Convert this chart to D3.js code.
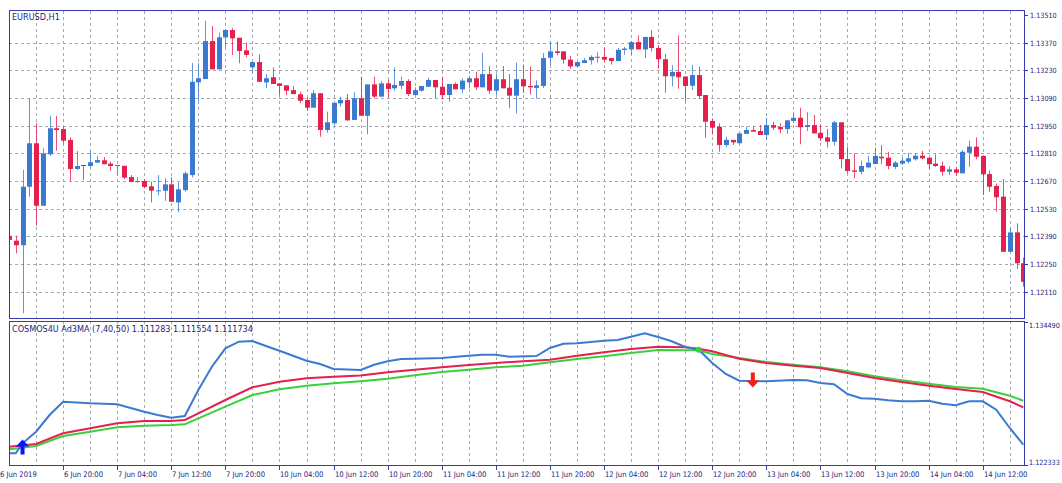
<!DOCTYPE html>
<html>
<head>
<meta charset="utf-8">
<script src="https://cdn.jsdelivr.net/npm/d3@7"></script>
<style>
html, body { margin: 0; padding: 0; background: #fff; }
svg { display: block; }
text { font-family: "Liberation Sans Narrow", "DejaVu Sans Condensed", "Arial Narrow", sans-serif; font-size: 9px; fill: #1c1c80; }
.paxis text { font-size: 7.2px; }
.taxis text { font-size: 7.6px; }
</style>
</head>
<body>
<script>
// EURUSD H1, one value per bar (6 Jun 12:00 .. 14 Jun 18:00)
const open = [1.12393,1.12368,1.12345,1.12641,1.12861,1.12545,1.12805,1.12937,1.12933,1.12878,
1.12731,1.12751,1.12746,1.12763,1.12775,1.12758,1.12747,1.12747,1.12690,1.12667,
1.12670,1.12643,1.12621,1.12621,1.12653,1.12562,1.12624,1.12700,1.13169,1.13186,
1.13378,1.13235,1.13397,1.13434,1.13395,1.13331,1.13245,1.13272,1.13169,1.13195,
1.13164,1.13154,1.13130,1.13109,1.13080,1.13041,1.13114,1.12928,1.12962,1.13063,
1.13080,1.12979,1.13089,1.13000,1.13159,1.13097,1.13164,1.13139,1.13152,1.13176,
1.13105,1.13127,1.13147,1.13181,1.13147,1.13105,1.13161,1.13134,1.13169,1.13190,
1.13144,1.13211,1.13127,1.13185,1.13142,1.13102,1.13185,1.13151,1.13141,1.13151,
1.13294,1.13326,1.13326,1.13284,1.13250,1.13267,1.13281,1.13296,1.13298,1.13292,
1.13277,1.13333,1.13336,1.13373,1.13336,1.13399,1.13343,1.13286,1.13200,1.13222,
1.13199,1.13152,1.13206,1.13105,1.12974,1.12945,1.12852,1.12878,1.12861,1.12909,
1.12928,1.12923,1.12903,1.12953,1.12943,1.12933,1.12974,1.12990,1.12943,1.12953,
1.12914,1.12891,1.12869,1.12967,1.12781,1.12724,1.12717,1.12739,1.12756,1.12793,
1.12788,1.12741,1.12758,1.12768,1.12780,1.12798,1.12788,1.12758,1.12747,1.12717,
1.12729,1.12709,1.12813,1.12844,1.12797,1.12705,1.12645,1.12591,1.12312,1.12410,
1.12254];

const high = [1.12402,1.12393,1.12726,1.13089,1.12962,1.12836,1.13000,1.13000,1.12945,1.12891,
1.12822,1.12751,1.12822,1.12797,1.12791,1.12768,1.12751,1.12747,1.12700,1.12690,
1.12680,1.12667,1.12700,1.12684,1.12689,1.12663,1.12717,1.13266,1.13266,1.13481,
1.13454,1.13422,1.13439,1.13443,1.13395,1.13370,1.13272,1.13311,1.13211,1.13245,
1.13164,1.13154,1.13151,1.13122,1.13094,1.13130,1.13114,1.13021,1.13066,1.13097,
1.13110,1.13119,1.13198,1.13159,1.13198,1.13176,1.13181,1.13245,1.13198,1.13185,
1.13144,1.13151,1.13193,1.13181,1.13198,1.13161,1.13169,1.13190,1.13203,1.13223,
1.13319,1.13252,1.13210,1.13252,1.13211,1.13269,1.13259,1.13250,1.13180,1.13318,
1.13377,1.13377,1.13326,1.13303,1.13272,1.13292,1.13306,1.13323,1.13343,1.13292,
1.13343,1.13348,1.13378,1.13407,1.13399,1.13433,1.13357,1.13313,1.13256,1.13407,
1.13199,1.13257,1.13248,1.13105,1.12987,1.12962,1.12894,1.12878,1.12911,1.12945,
1.12945,1.12953,1.12990,1.12970,1.12962,1.12977,1.13018,1.13041,1.13018,1.13004,
1.12957,1.12933,1.12974,1.12967,1.12844,1.12810,1.12773,1.12797,1.12839,1.12852,
1.12818,1.12771,1.12788,1.12813,1.12810,1.12822,1.12788,1.12805,1.12768,1.12746,
1.12741,1.12827,1.12874,1.12891,1.12797,1.12722,1.12658,1.12680,1.12434,1.12456,
1.12282];

const low = [1.12366,1.12304,1.12001,1.12591,1.12444,1.12545,1.12797,1.12823,1.12861,1.12670,
1.12726,1.12675,1.12737,1.12763,1.12755,1.12721,1.12700,1.12679,1.12665,1.12661,
1.12633,1.12562,1.12599,1.12569,1.12565,1.12512,1.12616,1.12689,1.13076,1.13186,
1.13235,1.13235,1.13347,1.13308,1.13266,1.13296,1.13215,1.13172,1.13139,1.13161,
1.13105,1.13105,1.13110,1.13063,1.13024,1.13041,1.12894,1.12914,1.12953,1.13046,
1.12975,1.12979,1.13000,1.12906,1.13089,1.13097,1.13092,1.13127,1.13134,1.13100,
1.13105,1.13122,1.13147,1.13089,1.13083,1.13071,1.13134,1.13114,1.13139,1.13130,
1.13144,1.13110,1.13105,1.13139,1.13038,1.13012,1.13115,1.13107,1.13087,1.13141,
1.13256,1.13306,1.13264,1.13238,1.13250,1.13267,1.13259,1.13269,1.13269,1.13259,
1.13277,1.13309,1.13309,1.13336,1.13292,1.13326,1.13238,1.13117,1.13149,1.13137,
1.13070,1.13130,1.13085,1.12889,1.12906,1.12818,1.12841,1.12852,1.12861,1.12909,
1.12920,1.12903,1.12881,1.12928,1.12911,1.12908,1.12962,1.12856,1.12923,1.12911,
1.12872,1.12839,1.12849,1.12734,1.12709,1.12684,1.12704,1.12734,1.12756,1.12756,
1.12729,1.12731,1.12751,1.12758,1.12773,1.12780,1.12731,1.12741,1.12697,1.12700,
1.12697,1.12709,1.12742,1.12780,1.12599,1.12616,1.12515,1.12312,1.12312,1.12225,
1.12135];

const close = [1.12372,1.12345,1.12641,1.12861,1.12545,1.12810,1.12937,1.12928,1.12874,1.12731,
1.12746,1.12747,1.12765,1.12776,1.12755,1.12746,1.12751,1.12687,1.12665,1.12670,
1.12640,1.12621,1.12623,1.12653,1.12565,1.12628,1.12709,1.13172,1.13190,1.13378,
1.13235,1.13397,1.13434,1.13392,1.13328,1.13308,1.13272,1.13172,1.13190,1.13161,
1.13151,1.13127,1.13110,1.13076,1.13041,1.13114,1.12928,1.12967,1.13066,1.13080,
1.12977,1.13089,1.13000,1.13159,1.13097,1.13164,1.13136,1.13156,1.13176,1.13110,
1.13130,1.13151,1.13181,1.13144,1.13105,1.13161,1.13134,1.13178,1.13190,1.13144,
1.13211,1.13127,1.13185,1.13139,1.13102,1.13185,1.13149,1.13144,1.13154,1.13292,
1.13326,1.13318,1.13284,1.13250,1.13272,1.13281,1.13298,1.13299,1.13284,1.13277,
1.13334,1.13340,1.13373,1.13336,1.13399,1.13343,1.13286,1.13200,1.13222,1.13195,
1.13151,1.13206,1.13100,1.12970,1.12940,1.12852,1.12878,1.12866,1.12911,1.12928,
1.12920,1.12903,1.12953,1.12940,1.12932,1.12977,1.12990,1.12942,1.12953,1.12911,
1.12886,1.12869,1.12967,1.12781,1.12721,1.12717,1.12746,1.12763,1.12797,1.12785,
1.12746,1.12763,1.12773,1.12785,1.12798,1.12785,1.12755,1.12746,1.12717,1.12729,
1.12712,1.12818,1.12844,1.12793,1.12704,1.12641,1.12588,1.12312,1.12410,1.12254,
1.12160];

// Ad3MA lines, read at these bar indices
const fastBars = [0,1,2,4,6,8,12,16,20,22,24,26,28,30,32,34,36,38,40,44,46,48,52,54,56,58,60,64,68,70,72,74,78,80,82,84,88,90,92,94,96,98,100,102,104,106,108,112,116,118,120,122,124,126,128,130,132,134,136,138,140,142,144,146,148,150];
const fastVals = [1.123328,1.123328,1.124178,1.125164,1.126584,1.127715,1.127578,1.127493,1.126864,1.126584,1.126354,1.126499,1.128709,1.130690,1.132254,1.132815,
  1.132875,1.132450,1.132050,1.131200,1.130919,1.130494,1.130409,1.130860,1.131149,1.131344,1.131370,1.131429,1.131625,1.131710,1.131710,1.131540,1.131599,1.132280,1.132645,1.132679,
  1.132900,1.132960,1.133240,1.133529,1.133215,1.132849,1.132365,1.132135,1.131004,1.130069,1.129500,1.129449,1.129559,1.129534,1.129304,1.129194,1.128369,1.128004,1.127970,1.127833,
  1.127748,1.127748,1.127799,1.127544,1.127408,1.127748,1.127748,1.127034,1.125479,1.124059];

const maBars = [0,4,8,12,16,20,24,26,28,32,36,40,44,48,52,56,60,64,68,72,76,80,84,88,92,96,100,102,104,108,112,116,120,124,128,132,136,140,144,148,150];
const midVals = [1.123889,1.124119,1.125028,1.125453,1.125878,1.126074,1.126074,1.126159,1.126728,1.127859,
  1.128939,1.129415,1.129703,1.129840,1.129933,1.130214,1.130435,1.130639,1.130834,1.131004,
  1.131149,1.131285,1.131625,1.131914,1.132195,1.132390,1.132339,1.132220,1.131999,1.131370,
  1.131004,1.130775,1.130579,1.130154,1.129729,1.129389,1.129075,1.128794,1.128539,1.127748,1.127238];
const slowVals = [1.123668,1.123949,1.124799,1.125164,1.125538,1.125674,1.125734,1.125793,1.126303,1.127289,
  1.128284,1.128769,1.129075,1.129279,1.129457,1.129670,1.129959,1.130239,1.130435,1.130639,
  1.130775,1.131064,1.131344,1.131574,1.131854,1.132109,1.132084,1.132084,1.131769,1.131429,
  1.131089,1.130860,1.130639,1.130299,1.129874,1.129534,1.129245,1.128964,1.128820,1.128225,1.127799];

const signals = [{bar: 2, dir: 'up', v: 1.123864}, {bar: 110, dir: 'down', v: 1.129559}];
const crossBar = 102, crossVal = 1.132135;

const priceTicks = [1.13510,1.13370,1.13230,1.13090,1.12950,1.12810,1.12670,1.12530,1.12390,1.12250,1.12110];
const indTicks = [1.134490, 1.122333];
const timeLabels = ["6 Jun 2019","6 Jun 20:00","7 Jun 04:00","7 Jun 12:00","7 Jun 20:00","10 Jun 04:00","10 Jun 12:00",
  "10 Jun 20:00","11 Jun 04:00","11 Jun 12:00","11 Jun 20:00","12 Jun 04:00","12 Jun 12:00","12 Jun 20:00",
  "13 Jun 04:00","13 Jun 12:00","13 Jun 20:00","14 Jun 04:00","14 Jun 12:00"];

const W = 1062, H = 483;
const L = 9, R = 1024;
const mainTop = 11, mainBot = 319, subTop = 321, subBot = 466;
const frameCol = '#3a3aae', gridCol = '#a3aab6';
const bullCol = '#3b7ad1', bearCol = '#e3204e';

const svg = d3.select('body').append('svg').attr('width', W).attr('height', H);

const x = d3.scaleLinear().domain([0, 150]).range([9, 1023.3]);
const y = d3.scaleLinear().domain([1.12110, 1.13510]).range([291.7, 15]);
const yi = d3.scaleLinear().domain([1.122333, 1.134490]).range([465, 322]);

const defs = svg.append('defs');
defs.append('clipPath').attr('id', 'clipMain')
  .append('rect').attr('x', L).attr('y', mainTop).attr('width', R - L).attr('height', mainBot - mainTop);
defs.append('clipPath').attr('id', 'clipSub')
  .append('rect').attr('x', L).attr('y', subTop).attr('width', R - L).attr('height', subBot - subTop);

// grid
const gridBars = d3.range(4, 151, 4);
const grid = svg.append('g').attr('stroke', gridCol).attr('stroke-dasharray', '3,3').attr('stroke-width', 1);
grid.selectAll('.vm').data(gridBars).join('line')
  .attr('x1', d => Math.round(x(d)) + 0.5).attr('x2', d => Math.round(x(d)) + 0.5)
  .attr('y1', mainTop).attr('y2', mainBot);
grid.selectAll('.vs').data(gridBars).join('line')
  .attr('x1', d => Math.round(x(d)) + 0.5).attr('x2', d => Math.round(x(d)) + 0.5)
  .attr('y1', subTop).attr('y2', subBot);
grid.selectAll('.h').data(priceTicks.slice(1)).join('line')
  .attr('x1', L).attr('x2', R)
  .attr('y1', d => Math.round(y(d)) + 0.5).attr('y2', d => Math.round(y(d)) + 0.5);

// candles
const bars = open.map((o, i) => ({i, o, h: high[i], l: low[i], c: close[i]}));
const cg = svg.append('g').attr('clip-path', 'url(#clipMain)');
cg.selectAll('line.wick').data(bars).join('line').attr('class', 'wick')
  .attr('x1', d => Math.round(x(d.i)) + 0.5).attr('x2', d => Math.round(x(d.i)) + 0.5)
  .attr('y1', d => y(d.h)).attr('y2', d => y(d.l))
  .attr('stroke', d => d.c >= d.o ? bullCol : bearCol).attr('stroke-opacity', 0.8);
cg.selectAll('rect.body').data(bars).join('rect').attr('class', 'body')
  .attr('x', d => Math.round(x(d.i)) - 2).attr('width', 5)
  .attr('y', d => y(Math.max(d.o, d.c)))
  .attr('height', d => Math.max(1, Math.abs(y(d.o) - y(d.c))))
  .attr('fill', d => d.c >= d.o ? bullCol : bearCol);

// indicator lines
const sg = svg.append('g').attr('clip-path', 'url(#clipSub)');
const line = d3.line().x(d => x(d[0])).y(d => yi(d[1]));
sg.append('path').datum(d3.zip(maBars, slowVals)).attr('d', line)
  .attr('fill', 'none').attr('stroke', '#3ccf3c').attr('stroke-width', 2);
sg.append('path').datum(d3.zip(maBars, midVals)).attr('d', line)
  .attr('fill', 'none').attr('stroke', '#e3204e').attr('stroke-width', 2);
sg.append('path').datum(d3.zip(fastBars, fastVals)).attr('d', line)
  .attr('fill', 'none').attr('stroke', '#3b7ad1').attr('stroke-width', 2);

sg.append('circle').attr('cx', x(crossBar)).attr('cy', yi(crossVal)).attr('r', 3).attr('fill', '#3ccf3c');

const upArrow = 'M0,-7.5 L6.5,-0.5 L2,-0.5 L2,7.5 L-2,7.5 L-2,-0.5 L-6.5,-0.5 Z';
sg.selectAll('path.sig').data(signals).join('path').attr('class', 'sig')
  .attr('d', upArrow)
  .attr('transform', d => `translate(${x(d.bar)},${yi(d.v)})` + (d.dir === 'down' ? ' scale(1,-1)' : ''))
  .attr('fill', d => d.dir === 'up' ? '#0a14f5' : '#f5200f');

// frames
const fr = svg.append('g').attr('fill', 'none').attr('stroke', frameCol).attr('stroke-width', 1);
fr.append('rect').attr('x', L + 0.5).attr('y', mainTop - 0.5).attr('width', R - L).attr('height', mainBot - mainTop);
fr.append('rect').attr('x', L + 0.5).attr('y', subTop + 0.5).attr('width', R - L).attr('height', subBot - subTop - 1);

// price axis
const pa = svg.append('g').attr('class', 'paxis');
pa.selectAll('line').data(priceTicks).join('line')
  .attr('x1', R).attr('x2', R + 4)
  .attr('y1', d => Math.round(y(d)) + 0.5).attr('y2', d => Math.round(y(d)) + 0.5)
  .attr('stroke', frameCol);
pa.selectAll('text').data(priceTicks).join('text')
  .attr('x', R + 6).attr('y', d => y(d) + 3)
  .text(d => d.toFixed(5));

const ia = svg.append('g').attr('class', 'paxis');
ia.selectAll('line').data(indTicks).join('line')
  .attr('x1', R).attr('x2', R + 4)
  .attr('y1', d => Math.round(yi(d)) + 0.5).attr('y2', d => Math.round(yi(d)) + 0.5)
  .attr('stroke', frameCol);
ia.selectAll('text').data(indTicks).join('text')
  .attr('x', R + 5).attr('y', (d, i) => yi(d) + (i === 0 ? 6 : 0))
  .text(d => d.toFixed(6));

// time axis
const ta = svg.append('g').attr('class', 'taxis');
const labelBars = timeLabels.map((t, k) => k * 8);
ta.selectAll('line').data(labelBars.slice(1)).join('line')
  .attr('x1', d => Math.round(x(d)) + 0.5).attr('x2', d => Math.round(x(d)) + 0.5)
  .attr('y1', subBot).attr('y2', subBot + 4)
  .attr('stroke', frameCol);
ta.selectAll('text').data(timeLabels).join('text')
  .attr('x', (d, k) => k === 0 ? 0 : Math.round(x(labelBars[k])) + 1)
  .attr('y', 477)
  .text(d => d);

// captions
svg.append('text').attr('x', 12).attr('y', 20).text('EURUSD,H1');
svg.append('text').attr('x', 12).attr('y', 332).text('COSMOS4U Ad3MA (7,40,50) 1.111283 1.111554 1.111734');
</script>
</body>
</html>
